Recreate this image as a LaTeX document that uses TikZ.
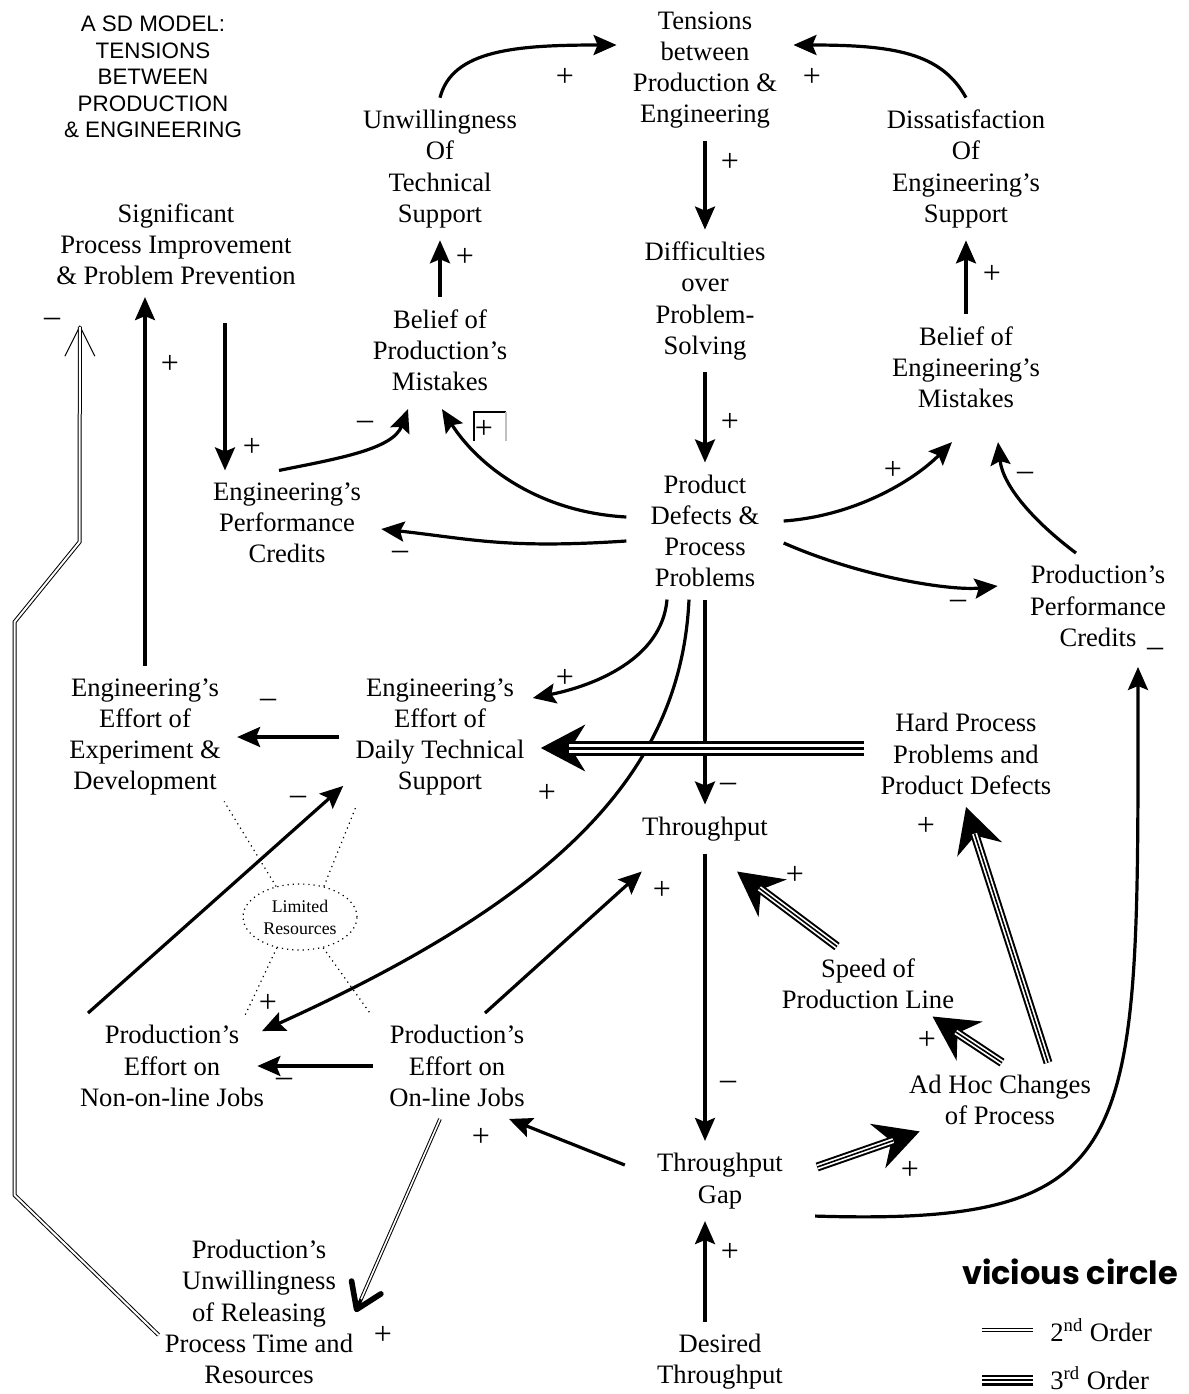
\documentclass[tikz,border=0pt]{standalone}
\usepackage{fontspec}
\setmainfont{Liberation Serif}
\newfontfamily\titlefont{Liberation Sans}
\newfontfamily\roundfont{Poppins}
\usetikzlibrary{arrows.meta,shapes.geometric}

\newcommand\varfont{\fontsize{13.3}{15.6}\selectfont}

\begin{document}
\begin{tikzpicture}[
  x=0.5pt,y=-0.5pt,
  var/.style={align=center,font=\varfont,inner xsep=8pt,inner ysep=6pt},
  sign/.style={font=\fontsize{16}{16}\selectfont,inner sep=0pt},
  legend/.style={font=\varfont,inner sep=0pt},
  title/.style={align=center,font=\titlefont\fontsize{11.2}{13.3}\selectfont},
  limited/.style={ellipse,draw,dotted,line width=0.6pt,minimum width=57pt,minimum height=33pt,inner sep=0pt,align=center,font=\fontsize{8.9}{11}\selectfont},
  ray/.style={dotted,line width=0.6pt},
  link/.style={line width=1.6pt,-{Stealth[length=11.5pt,width=10pt,inset=2pt]}},
  thirdorder/.style={line width=4.5pt,-{Stealth[length=22pt,width=23pt,inset=7pt]},
    postaction={draw=white,line width=2.5pt,-,shorten >=14pt},
    postaction={draw=black,line width=0.8pt,-,shorten >=14pt}},
  widethird/.style={line width=7.5pt,-{Stealth[length=22pt,width=23pt,inset=7pt]},
    postaction={draw=white,line width=4.5pt,-,shorten >=14pt},
    postaction={draw=black,line width=1.5pt,-,shorten >=14pt}},
  secondorder/.style={line width=1.8pt,-{Straight Barb[length=12pt,width=16pt,line width=2.8pt,round]},
    postaction={draw=white,line width=0.8pt,-,shorten >=7pt}},
  thinsecond/.style={line width=2pt,-{Straight Barb[length=15pt,width=15pt,line width=0.5pt]},
    postaction={draw=white,line width=1pt,-,shorten >=1pt}},
  secondline/.style={line width=2.2pt,postaction={draw=white,line width=1pt}},
  thirdline/.style={line width=5.5pt,postaction={draw=white,line width=3.3pt},postaction={draw=black,line width=1.1pt}}
]
\useasboundingbox (0,0) rectangle (1189,1394);

% variables
\node[title] (title) at (153,77) {A SD MODEL:\\TENSIONS\\BETWEEN\\PRODUCTION\\\& ENGINEERING};
\node[var] (tension) at (705,70) {Tensions\\between\\Production \&\\Engineering};
\node[var] (unwill) at (440,169) {Unwillingness\\Of\\Technical\\Support};
\node[var] (dissat) at (966,169) {Dissatisfaction\\Of\\Engineering’s\\Support};
\node[var] (signif) at (176,244) {Significant\\Process Improvement\\\& Problem Prevention};
\node[var] (diffic) at (705,301) {Difficulties\\over\\Problem-\\Solving};
\node[var] (beliefp) at (440,350) {Belief of\\Production’s\\Mistakes};
\node[var] (beliefe) at (966,367) {Belief of\\Engineering’s\\Mistakes};
\node[var] (engcred) at (287,523) {Engineering’s\\Performance\\Credits};
\node[var] (defects) at (705,531) {Product\\Defects \&\\Process\\Problems};
\node[var] (prodcred) at (1098,606) {Production’s\\Performance\\Credits};
\node[var] (engexp) at (145,737) {Engineering’s\\Effort of\\Experiment \&\\Development};
\node[var] (engdaily) at (440,737) {Engineering’s\\Effort of\\Daily Technical\\Support};
\node[var] (hardprob) at (966,754) {Hard Process\\Problems and\\Product Defects};
\node[var] (thruput) at (705,829) {Throughput};
\node[var] (speed) at (868,984) {Speed of\\Production Line};
\node[limited] (limres) at (300,917) {Limited\\Resources};
\node[var] (prodnon) at (172,1066) {Production’s\\Effort on\\Non-on-line Jobs};
\node[var] (prodon) at (457,1066) {Production’s\\Effort on\\On-line Jobs};
\node[var] (adhoc) at (1000,1100) {Ad Hoc Changes\\of Process};
\node[var] (gap) at (720,1181) {Throughput\\Gap};
\node[var] (release) at (259,1312) {Production’s\\Unwillingness\\of Releasing\\Process Time and\\Resources};
\node[var] (desired) at (720,1362) {Desired\\Throughput};

% limited resources rays
\draw[ray] (limres.128) -- ++(-52,-85);
\draw[ray] (limres.52) -- ++(33,-82);
\draw[ray] (limres.233) -- ++(-32,68);
\draw[ray] (limres.307) -- ++(48,67);

% single links
\draw[link] (unwill.north) .. controls +(12,-48) and +(-100,0) .. ([yshift=12.5pt]tension.west);
\draw[link] (dissat.north) .. controls +(-25,-45) and +(100,0) .. ([yshift=12.5pt]tension.east);
\draw[link] (tension) -- (diffic);
\draw[link] (beliefp) -- (unwill);
\draw[link] (beliefe) -- (dissat);
\draw[link] (diffic) -- (defects);
\draw[link] ([xshift=24.5pt,yshift=-13pt]signif.south) -- ([xshift=-31pt]engcred.north);
\draw[link] ([xshift=-4pt]engcred.north) .. controls +(60,-12) and +(-15,40) .. ([xshift=-16pt,yshift=-3pt]beliefp.south);
\draw[link] ([xshift=-4pt,yshift=7pt]defects.west) .. controls +(-90,-5) and +(35,55) .. ([xshift=1pt,yshift=-3pt]beliefp.south);
\draw[link] ([xshift=-4pt,yshift=-5pt]defects.west) .. controls +(-120,8) and +(90,10) .. ([xshift=2pt,yshift=-3pt]engcred.east);
\draw[link] ([xshift=4pt,yshift=5pt]defects.east) .. controls +(70,-5) and +(-40,40) .. ([xshift=-7pt,yshift=-11pt]beliefe.south);
\draw[link] ([xshift=4pt,yshift=-6pt]defects.east) .. controls +(80,35) and +(-45,5) .. ([xshift=-8pt,yshift=10pt]prodcred.west);
\draw[link] ([xshift=-11pt]prodcred.north) .. controls +(-40,-30) and +(5,45) .. ([xshift=16pt,yshift=-11pt]beliefe.south);
\draw[link] (engexp.north) -- (engexp.north |- signif.south);
\draw[link] ([xshift=-19pt]defects.south) .. controls +(-5,60) and +(60,-12) .. ([xshift=-4pt,yshift=19.5pt]engdaily.east);
\draw[link] (defects) -- (thruput);
\draw[link] ([xshift=-8pt]defects.south) .. controls +(-8,172) and +(298,-135) .. ([xshift=45pt,yshift=-9pt]prodnon.north);
\draw[link] (engdaily) -- (engexp);
\draw[link] ([xshift=-42pt]prodnon.north) -- ([xshift=2pt,yshift=11pt]engdaily.south west);
\draw[link] (prodon.west) -- ([xshift=-11.5pt]prodnon.east);
\draw[link] ([xshift=14pt]prodon.north) -- ([xshift=8pt,yshift=-9pt]thruput.south west);
\draw[link] (thruput.south) -- (thruput.south |- gap.north);
\draw[link] ([xshift=-8pt,yshift=8pt]gap.west) -- ([xshift=-16pt]prodon.south east);
\draw[link] ([xshift=8pt,yshift=2.5pt]gap.south east) .. controls +(330,10) and +(0,480) .. ([xshift=20pt,yshift=-4pt]prodcred.south);
\draw[link] ([xshift=-7.5pt]desired.north) -- ([xshift=-7.5pt]gap.south);

% vicious circle links
\draw[widethird] ([yshift=3pt]hardprob.west) -- ([yshift=3pt]hardprob.west -| engdaily.east);
\draw[thirdorder] ([xshift=9pt,yshift=7pt]gap.east) -- ([xshift=13.5pt,yshift=3pt]adhoc.south west);
\draw[thirdorder] ([xshift=1pt]adhoc.north) -- ([xshift=-19pt,yshift=2.5pt]speed.south east);
\draw[thirdorder] ([xshift=-15.5pt]speed.north) -- ([xshift=16pt,yshift=-9pt]thruput.south);
\draw[thirdorder] ([xshift=24pt]adhoc.north) -- (hardprob.south);
\draw[secondorder] ([xshift=-8.5pt]prodon.south) -- ([xshift=-7pt]release.east);
\draw[thinsecond] ([xshift=5pt,yshift=-11.5pt]release.west) -- ++(-144,-140) -- ++(0,-573) -- ++(65,-80) -- ([xshift=20pt,yshift=-14pt]signif.south west);

% polarities
\node[sign] (s1) at (565,77) {+};
\node[sign] (s2) at (812,77) {+};
\node[sign] (s3) at (730,162) {+};
\node[sign] (s4) at (465,257) {+};
\node[sign] (s5) at (992,274) {+};
\node[sign] (s6) at (730,422) {+};
\node[sign] (s7) at (170,364) {+};
\node[sign] (s8) at (52,322) {–};
\node[sign] (s9) at (252,447) {+};
\node[sign] (s10) at (365,425) {–};
\node[sign] (s11) at (484,429) {+};
\draw[line width=0.8pt] (474,441) -- (474,412) -- (506,412);
\draw[black!25,line width=0.8pt] (506,412) -- (506,441);
\node[sign] (s12) at (893,470) {+};
\node[sign] (s13) at (1025,476) {–};
\node[sign] (s14) at (400,555) {–};
\node[sign] (s15) at (958,604) {–};
\node[sign] (s16) at (1155,652) {–};
\node[sign] (s17) at (565,678) {+};
\node[sign] (s18) at (268,703) {–};
\node[sign] (s19) at (728,787) {–};
\node[sign] (s20) at (547,793) {+};
\node[sign] (s21) at (298,800) {–};
\node[sign] (s22) at (926,826) {+};
\node[sign] (s23) at (795,875) {+};
\node[sign] (s24) at (662,890) {+};
\node[sign] (s25) at (268,1003) {+};
\node[sign] (s26) at (284,1082) {–};
\node[sign] (s27) at (927,1040) {+};
\node[sign] (s28) at (728,1085) {–};
\node[sign] (s29) at (481,1137) {+};
\node[sign] (s30) at (910,1170) {+};
\node[sign] (s31) at (730,1252) {+};
\node[sign] (s32) at (383,1335) {+};

% legend
\node[font=\roundfont\bfseries\fontsize{16}{18}\selectfont,inner sep=0pt] (vicious) at (1070,1272) {vicious circle};
\node[legend,anchor=west] (leg2) at (1050,1330) {2\textsuperscript{nd} Order};
\node[legend,anchor=west] (leg3) at (1050,1378) {3\textsuperscript{rd} Order};
\draw[secondline] ([xshift=-8.5pt]leg2.west) -- ++(-51,0);
\draw[thirdline] ([xshift=-8.5pt,yshift=-1pt]leg3.west) -- ++(-51,0);
\end{tikzpicture}
\end{document}
